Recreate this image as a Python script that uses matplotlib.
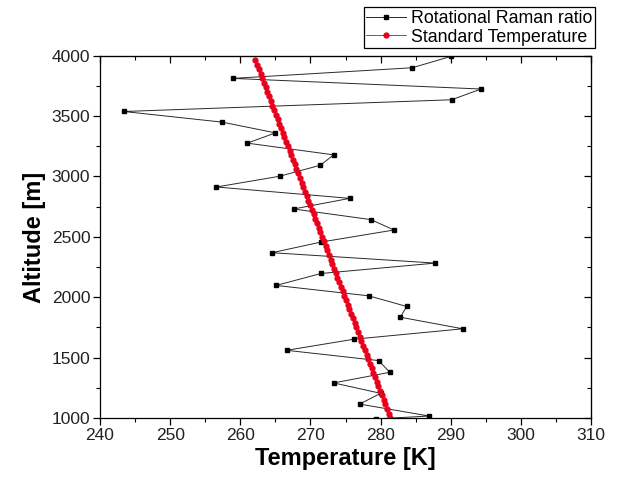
import matplotlib
matplotlib.use("Agg")
import matplotlib.pyplot as plt
from matplotlib.ticker import MultipleLocator

plt.rcParams['font.family'] = ['Liberation Sans', 'DejaVu Sans']

# Rotational Raman ratio retrieval (temperature vs altitude)
raman_temp = [290.0, 284.5, 258.9, 294.3, 290.1, 243.4, 257.4, 265.0, 261.0,
              273.3, 271.4, 265.6, 256.6, 275.6, 267.6, 278.6, 281.9, 271.5,
              264.5, 287.8, 271.5, 265.1, 278.3, 283.7, 282.8, 291.7, 276.2,
              266.6, 279.7, 281.3, 273.3, 280.0, 277.0, 286.9, 279.3]
raman_alt = [3994, 3900, 3812, 3724, 3635, 3538, 3450, 3361, 3276,
             3179, 3093, 3002, 2913, 2819, 2731, 2643, 2557, 2457,
             2369, 2283, 2197, 2098, 2012, 1924, 1835, 1739, 1653,
             1561, 1476, 1379, 1291, 1205, 1116, 1017, 993]

# Standard atmosphere profile
std_alt = [1000, 1037.5, 1075, 1112.5, 1150, 1187.5, 1225, 1262.5, 1300, 1337.5,
           1375, 1412.5, 1450, 1487.5, 1525, 1562.5, 1600, 1637.5, 1675, 1712.5,
           1750, 1787.5, 1825, 1862.5, 1900, 1937.5, 1975, 2012.5, 2050, 2087.5,
           2125, 2162.5, 2200, 2237.5, 2275, 2312.5, 2350, 2387.5, 2425, 2462.5,
           2500, 2537.5, 2575, 2612.5, 2650, 2687.5, 2725, 2762.5, 2800, 2837.5,
           2875, 2912.5, 2950, 2987.5, 3025, 3062.5, 3100, 3137.5, 3175, 3212.5,
           3250, 3287.5, 3325, 3362.5, 3400, 3437.5, 3475, 3512.5, 3550, 3587.5,
           3625, 3662.5, 3700, 3737.5, 3775, 3812.5, 3850, 3887.5, 3925, 3962.5]
std_temp = [281.40, 281.16, 280.91, 280.67, 280.43, 280.18, 279.94, 279.69, 279.45, 279.21,
            278.96, 278.72, 278.48, 278.23, 277.99, 277.74, 277.50, 277.26, 277.01, 276.77,
            276.53, 276.28, 276.04, 275.79, 275.55, 275.31, 275.06, 274.82, 274.58, 274.33,
            274.09, 273.84, 273.60, 273.36, 273.11, 272.87, 272.63, 272.38, 272.14, 271.89,
            271.65, 271.41, 271.16, 270.92, 270.68, 270.43, 270.19, 269.94, 269.70, 269.46,
            269.21, 268.97, 268.73, 268.48, 268.24, 267.99, 267.75, 267.51, 267.26, 267.02,
            266.78, 266.53, 266.29, 266.04, 265.80, 265.56, 265.31, 265.07, 264.83, 264.58,
            264.34, 264.09, 263.85, 263.61, 263.36, 263.12, 262.88, 262.63, 262.39, 262.14]

fig = plt.figure(figsize=(6.21, 4.8), dpi=100)
ax = fig.add_axes([0.161, 0.129, 0.791, 0.755])

ax.plot(raman_temp, raman_alt, color='#2a2a2a', lw=0.7, marker='s', ms=3.0,
        mfc='black', mec='black', label='Rotational Raman ratio')
ax.plot(std_temp, std_alt, color='#e8001c', lw=0.6, marker='o', ms=3.5,
        mfc='#e8001c', mec='#e8001c', label='Standard Temperature')

ax.set_xlim(240, 310)
ax.set_ylim(1000, 4000)
ax.xaxis.set_major_locator(MultipleLocator(10))
ax.xaxis.set_minor_locator(MultipleLocator(5))
ax.yaxis.set_major_locator(MultipleLocator(500))
ax.yaxis.set_minor_locator(MultipleLocator(250))
ax.tick_params(which='major', direction='out', length=5, width=0.9,
               labelsize=12.5, labelcolor='#222222', pad=2)
ax.tick_params(which='minor', direction='out', length=3, width=0.8)

# mirrored ticks on top and right, pointing inwards
top = ax.secondary_xaxis('top')
top.xaxis.set_major_locator(MultipleLocator(10))
top.xaxis.set_minor_locator(MultipleLocator(5))
top.tick_params(which='both', direction='in', labeltop=False)
top.tick_params(which='major', length=5, width=0.9)
top.tick_params(which='minor', length=3, width=0.8)
right = ax.secondary_yaxis('right')
right.yaxis.set_major_locator(MultipleLocator(500))
right.yaxis.set_minor_locator(MultipleLocator(250))
right.tick_params(which='both', direction='in', labelright=False)
right.tick_params(which='major', length=5, width=0.9)
right.tick_params(which='minor', length=3, width=0.8)

for s in ax.spines.values():
    s.set_linewidth(0.9)

ax.set_xlabel('Temperature [K]', fontsize=17, fontweight='bold', labelpad=3)
ax.set_ylabel('Altitude [m]', fontsize=17, fontweight='bold', labelpad=4)

leg = ax.legend(loc='upper right', bbox_to_anchor=(0.958, 0.985),
                bbox_transform=fig.transFigure, numpoints=1, fontsize=12.8,
                frameon=True, fancybox=False, edgecolor='black', framealpha=1,
                borderpad=0.15, handlelength=2.2, handletextpad=0.3,
                labelspacing=0.1, borderaxespad=0)
leg.get_frame().set_linewidth(0.9)

fig.savefig('out.png', dpi=100)
